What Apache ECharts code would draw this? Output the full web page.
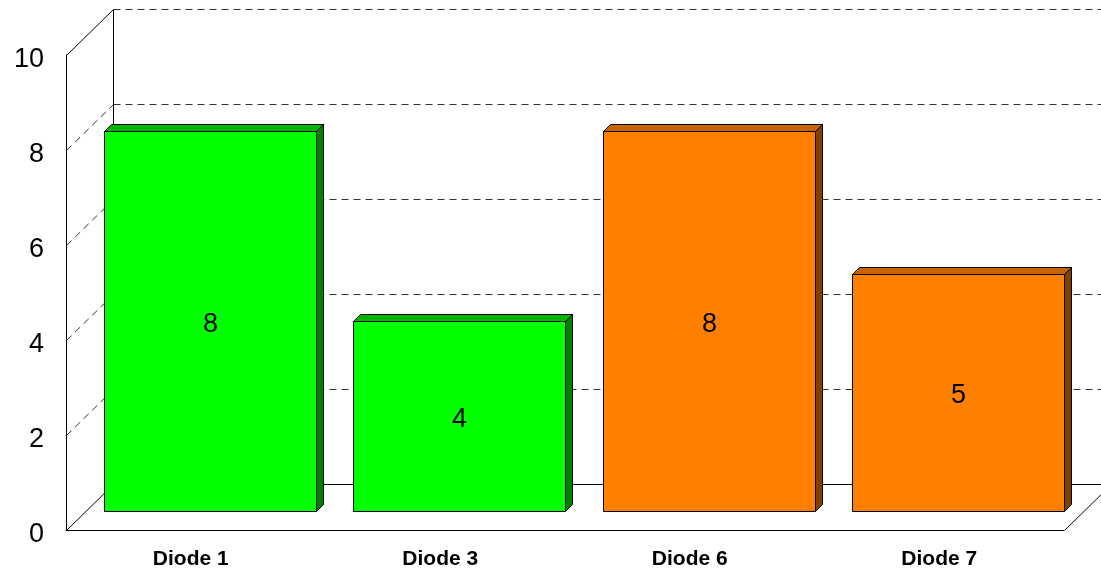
<!DOCTYPE html>
<html>
<head>
<meta charset="utf-8">
<script src="https://cdn.jsdelivr.net/npm/echarts@6/dist/echarts.min.js"></script>
<style>
  html, body { margin: 0; padding: 0; background: #fff; }
  #chart { width: 1101px; height: 572px; }
</style>
</head>
<body>
<div id="chart"></div>
<script>
// Chart data
const categories = ['Diode 1', 'Diode 3', 'Diode 6', 'Diode 7'];
const values = [8, 4, 8, 5];
const yTicks = [0, 2, 4, 6, 8, 10];

// Face colours per bar: front, top, side
const frontColors = ['#00FF00', '#00FF00', '#FF8000', '#FF8000'];
const topColors   = ['#00B400', '#00B400', '#C86400', '#C86400'];
const sideColors  = ['#008000', '#008000', '#804000', '#804000'];

// Oblique projection of the chart box (pixels)
const DEPTH_X = 47, DEPTH_Y = 46;
// Position of the bars inside the depth of the box
const BAR_FRONT_X = 19, BAR_FRONT_Y = 19;
const BAR_THICK = 7;
const BAR_RATIO = 0.85;

const FONT = 'Arial, "Liberation Sans", sans-serif';

const chart = echarts.init(document.getElementById('chart'));

// snap to pixel centres so 1px strokes stay sharp
const px = (n) => Math.round(n) + 0.5;

function line(x1, y1, x2, y2, dashed) {
  return {
    type: 'line',
    shape: { x1: px(x1), y1: px(y1), x2: px(x2), y2: px(y2) },
    style: {
      stroke: dashed ? '#333' : '#000',
      lineWidth: 1,
      lineDash: dashed ? [7, 5] : null
    },
    silent: true
  };
}

// Walls, floor and gridlines, one item per y tick
function renderFrame(params, api) {
  const cs = params.coordSys;
  const v = api.value(0);
  const y = api.coord([0, v])[1];
  const xl = cs.x, xr = cs.x + cs.width;
  const children = [];
  const isBase = v === 0;
  const isTop = v === yTicks[yTicks.length - 1];
  // left wall diagonal
  children.push(line(xl, y, xl + DEPTH_X, y - DEPTH_Y, !(isBase || isTop)));
  // back wall line
  children.push(line(xl + DEPTH_X, y - DEPTH_Y, xr + DEPTH_X, y - DEPTH_Y, !isBase));
  if (isBase) {
    // right floor diagonal
    children.push(line(xr, y, xr + DEPTH_X, y - DEPTH_Y, false));
  }
  if (isTop) {
    // back wall left edge
    const y0 = api.coord([0, 0])[1];
    children.push(line(xl + DEPTH_X, y - DEPTH_Y, xl + DEPTH_X, y0 - DEPTH_Y, false));
  }
  return { type: 'group', children };
}

// A 3D-looking bar: front, top and side faces plus its value label
function renderBar(params, api) {
  const i = api.value(0);
  const v = api.value(1);
  const base = api.coord([i, 0]);
  const top = api.coord([i, v]);
  const band = api.size([1, 0])[0];
  const w = band * BAR_RATIO;
  const x0 = px(base[0] - w / 2 + BAR_FRONT_X);
  const x1 = px(base[0] + w / 2 + BAR_FRONT_X);
  const yb = px(base[1] - BAR_FRONT_Y);
  const yt = px(top[1] - BAR_FRONT_Y);
  const d = BAR_THICK;
  const border = { stroke: '#000', lineWidth: 1, lineJoin: 'miter' };
  return {
    type: 'group',
    children: [
      {
        type: 'polygon',
        shape: { points: [[x1, yt], [x1 + d, yt - d], [x1 + d, yb - d], [x1, yb]] },
        style: Object.assign({ fill: sideColors[i] }, border)
      },
      {
        type: 'polygon',
        shape: { points: [[x0, yt], [x0 + d, yt - d], [x1 + d, yt - d], [x1, yt]] },
        style: Object.assign({ fill: topColors[i] }, border)
      },
      {
        type: 'rect',
        shape: { x: x0, y: yt, width: x1 - x0, height: yb - yt },
        style: Object.assign({ fill: frontColors[i] }, border)
      },
      {
        type: 'text',
        style: {
          text: String(v),
          x: (x0 + x1) / 2,
          y: (yt + yb) / 2 + 3,
          align: 'center',
          verticalAlign: 'middle',
          fill: '#000',
          font: '27px ' + FONT
        }
      }
    ]
  };
}

chart.setOption({
  animation: false,
  backgroundColor: '#fff',
  grid: { left: 66, right: 37, top: 55, bottom: 42, containLabel: false },
  xAxis: {
    type: 'category',
    data: categories,
    axisLine: { show: true, lineStyle: { color: '#000', width: 1 } },
    axisTick: { show: false },
    axisLabel: {
      margin: 19,
      color: '#000',
      fontFamily: FONT,
      fontWeight: 'bold',
      fontSize: 21
    },
    splitLine: { show: false }
  },
  yAxis: {
    type: 'value',
    min: 0,
    max: 10,
    interval: 2,
    axisLine: { show: true, lineStyle: { color: '#000', width: 1 } },
    axisTick: { show: false },
    axisLabel: {
      margin: 22,
      color: '#000',
      formatter: (v) => '{t|' + v + '}',
      rich: {
        t: {
          fontFamily: FONT,
          fontSize: 27,
          color: '#000',
          padding: [10, 0, 0, 0]
        }
      }
    },
    splitLine: { show: false }
  },
  series: [
    {
      type: 'custom',
      z: 1,
      silent: true,
      clip: false,
      renderItem: renderFrame,
      data: yTicks.map(t => [t]),
      encode: { y: 0 }
    },
    {
      type: 'custom',
      z: 3,
      silent: true,
      clip: false,
      renderItem: renderBar,
      data: values.map((v, i) => [i, v]),
      encode: { x: 0, y: 1 }
    }
  ]
});
</script>
</body>
</html>
